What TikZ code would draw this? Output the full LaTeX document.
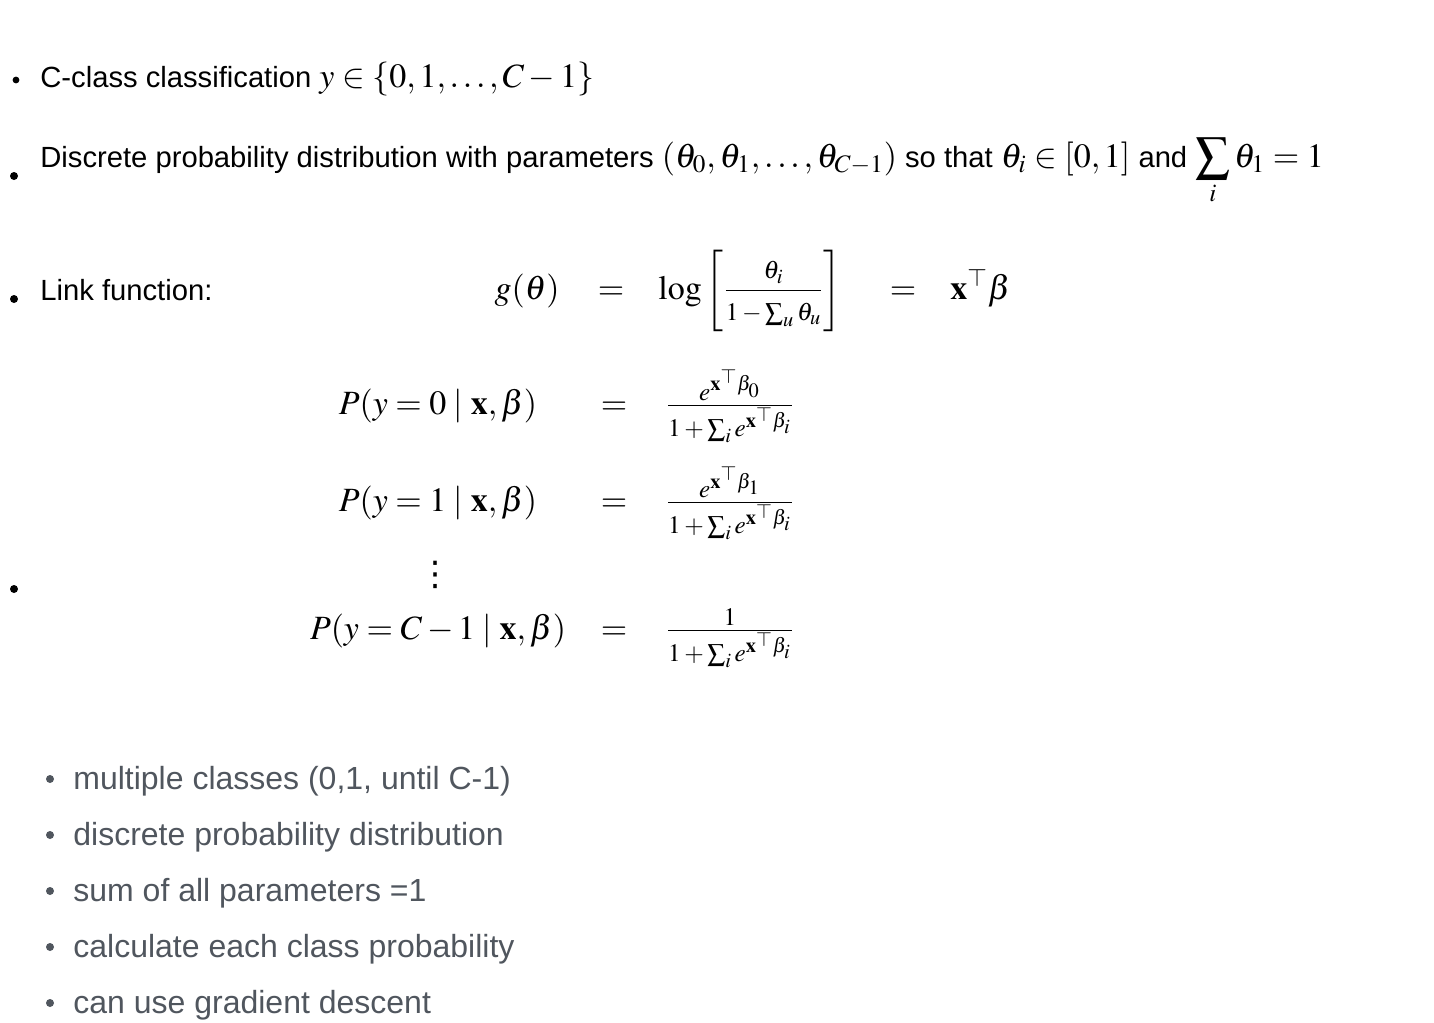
\documentclass[tikz,border=0pt]{standalone}
\usepackage{mathptmx}
\usepackage[no-math]{fontspec}
\setmainfont{Liberation Sans}
\newfontfamily\symfont{DejaVu Sans}
\definecolor{notegray}{RGB}{80,86,94}
\newcommand{\inl}[1]{{\fontsize{17}{19}\selectfont$#1$}}
\tikzset{
  txt/.style={anchor=base west, inner sep=0pt, font=\fontsize{14.6}{17}\selectfont},
  note/.style={anchor=base west, inner sep=0pt, text=notegray, font=\fontsize{16}{19}\selectfont},
  eqn/.style={anchor=base, inner sep=0pt, font=\fontsize{17}{20}\selectfont},
  dot/.style={fill=black},
}

\begin{document}
\begin{tikzpicture}[x=0.5pt, y=-0.5pt]
	\useasboundingbox (0,0) rectangle (1434,1022);
	
	%%%%% upper list %%%%%
	\fill[dot] (16,80) circle (1.7pt);
	\node[txt] (cls) at (40,88) {C-class classification \inl{y\in\{0,1,\ldots,C-1\}}};
	
	\fill[dot] (14,176) circle (2pt);
	\node[txt] (dist) at (40,167) {Discrete probability distribution with parameters \inl{(\theta_0,\theta_1,\ldots,\theta_{C-1})} so that \inl{\theta_i\in[0,1]} and \inl{\displaystyle\sum_i\theta_1=1}};
	
	\fill[dot] (14,299) circle (2pt);
	\node[txt] (link) at (40,300) {Link function:};
	\node[eqn, anchor=base east] (g) at (560,299) {$g(\theta)$};
	\node[eqn] (geq) at (611,299) {$=$};
	\node[eqn, anchor=base west] (glog) at (658,299) {$\log\bigg[\frac{\rule[-5pt]{0pt}{5pt}\theta_i}{\rule{0pt}{14pt}1\:-\:\sum_u\theta_u}\bigg]$};
	\node[eqn] (geq2) at (903,299) {$=$};
	\node[eqn, anchor=base west] (gxb) at (950,299) {$\mathbf{x}^\top\beta$};
	
	%%%%% class probabilities %%%%%
	\fill[dot] (14,589) circle (2pt);
	\node[eqn] (p0) at (438,414) {$P(y=0\mid\mathbf{x},\beta)$};
	\node[eqn] (e0) at (614,414) {$=$};
	\node[eqn] (f0) at (730,414) {$\frac{e^{\mathbf{x}^\top\beta_0}}{1\:+\:\sum_i e^{\mathbf{x}^\top\beta_i}}$};
	
	\node[eqn] (p1) at (438,511) {$P(y=1\mid\mathbf{x},\beta)$};
	\node[eqn] (e1) at (614,511) {$=$};
	\node[eqn] (f1) at (730,511) {$\frac{e^{\mathbf{x}^\top\beta_1}}{1\:+\:\sum_i e^{\mathbf{x}^\top\beta_i}}$};
	
	\node[anchor=center, inner sep=0pt, font=\symfont\fontsize{17}{20}\selectfont] (vd) at (435,575) {⋮};
	
	\node[eqn] (pc) at (438,639) {$P(y=C-1\mid\mathbf{x},\beta)$};
	\node[eqn] (ec) at (614,639) {$=$};
	\node[eqn] (fc) at (730,639) {$\frac{1}{1\:+\:\sum_i e^{\mathbf{x}^\top\beta_i}}$};
	
	%%%%% notes %%%%%
	\fill[notegray] (50,779) circle (2pt);
	\node[note] (n1) at (73,789) {multiple classes (0,1, until C-1)};
	\fill[notegray] (50,835) circle (2pt);
	\node[note] (n2) at (73,845) {discrete probability distribution};
	\fill[notegray] (50,891) circle (2pt);
	\node[note] (n3) at (73,901) {sum of all parameters =1};
	\fill[notegray] (50,947) circle (2pt);
	\node[note] (n4) at (73,957) {calculate each class probability};
	\fill[notegray] (50,1003) circle (2pt);
	\node[note] (n5) at (73,1013) {can use gradient descent};
\end{tikzpicture}
\end{document}
